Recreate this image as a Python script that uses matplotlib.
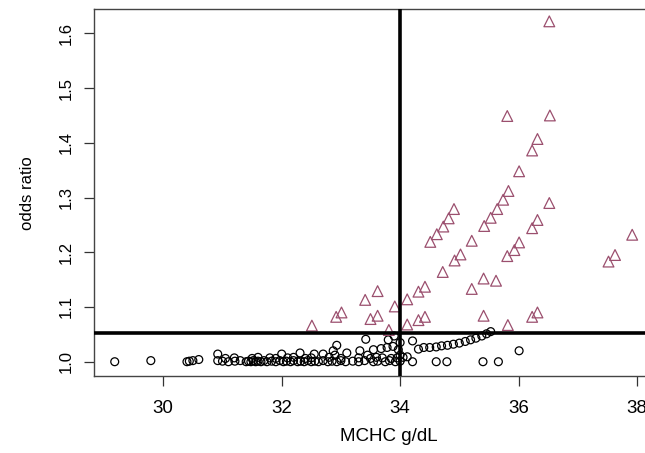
import matplotlib
matplotlib.use("Agg")
import matplotlib.pyplot as plt

# ---- data ----
circle_x = [29.18, 29.79, 30.40, 30.44, 30.50, 30.60, 30.92, 31.00, 31.10, 31.21,
            31.30, 31.40, 31.44, 31.48, 31.52, 31.56, 31.60, 31.65, 31.70, 31.75,
            31.83, 31.90, 31.97, 32.03, 32.08, 32.15, 32.20, 32.27, 32.32, 32.38,
            32.44, 32.50, 32.56, 32.62, 32.70, 32.78, 32.85, 32.93, 33.00, 33.08,
            33.20, 33.30, 33.40, 33.55, 33.62, 33.75, 33.82, 33.92, 34.00, 34.21,
            34.61, 34.79, 35.40, 35.66,
            31.05, 31.20, 31.50, 31.60, 31.80, 31.90, 32.10, 32.20, 32.40, 32.50,
            32.80, 33.00, 33.30, 33.50, 33.60, 33.70, 33.85, 33.95, 34.05,
            30.92, 32.00, 32.31, 32.55, 32.70, 32.90, 33.10, 33.45, 34.00, 34.12,
            32.87, 33.32, 33.55, 33.68, 33.78, 33.88, 33.97, 36.01,
            32.93, 33.42, 33.80, 33.90, 34.00, 34.21,
            34.31, 34.40, 34.50, 34.61, 34.70, 34.80, 34.90, 35.00, 35.10, 35.19,
            35.28, 35.38, 35.46, 35.53]
circle_y = [1.000, 1.002, 1.000, 1.001, 1.002, 1.004, 1.002, 1.001, 1.000, 1.001,
            1.002, 1.000, 1.001, 1.000, 1.002, 1.000, 1.001, 1.000, 1.002, 1.000,
            1.001, 1.000, 1.002, 1.000, 1.001, 1.000, 1.002, 1.000, 1.001, 1.000,
            1.002, 1.000, 1.001, 1.000, 1.002, 1.000, 1.001, 1.000, 1.002, 1.000,
            1.001, 1.000, 1.002, 1.000, 1.001, 1.000, 1.002, 1.000, 1.001, 1.000,
            1.000, 1.000, 1.000, 1.000,
            1.006, 1.007, 1.006, 1.008, 1.007, 1.006, 1.007, 1.008, 1.006, 1.007,
            1.008, 1.006, 1.007, 1.006, 1.008, 1.007, 1.006, 1.007, 1.008,
            1.014, 1.014, 1.016, 1.014, 1.014, 1.012, 1.016, 1.012, 1.012, 1.009,
            1.020, 1.020, 1.022, 1.024, 1.026, 1.028, 1.022, 1.020,
            1.030, 1.041, 1.040, 1.047, 1.035, 1.038,
            1.023, 1.026, 1.026, 1.027, 1.029, 1.030, 1.032, 1.034, 1.037, 1.040,
            1.043, 1.047, 1.051, 1.055]

tri_x = [32.51, 32.92, 33.01, 33.41, 33.62, 33.50, 33.62, 33.81, 33.91,
         34.12, 34.31, 34.42, 34.12, 34.31, 34.42,
         34.51, 34.62, 34.73, 34.82, 34.91, 34.72, 34.92, 35.02, 35.21,
         35.21, 35.41, 35.62, 35.41,
         35.42, 35.53, 35.64, 35.74, 35.83, 35.81, 35.93, 36.01,
         36.01, 36.23, 36.32, 35.81, 36.53, 36.52,
         36.52, 36.23, 36.32, 36.23, 36.32, 35.82,
         37.52, 37.63, 37.92]
tri_y = [1.066, 1.082, 1.090, 1.113, 1.129, 1.078, 1.084, 1.058, 1.101,
         1.114, 1.128, 1.137, 1.068, 1.076, 1.082,
         1.219, 1.233, 1.247, 1.262, 1.279, 1.164, 1.185, 1.196, 1.221,
         1.133, 1.152, 1.148, 1.084,
         1.248, 1.263, 1.279, 1.296, 1.312, 1.193, 1.204, 1.218,
         1.348, 1.386, 1.407, 1.449, 1.450, 1.622,
         1.290, 1.244, 1.259, 1.082, 1.090, 1.067,
         1.183, 1.195, 1.232]

x_ticks = [30, 32, 34, 36, 38]
y_ticks = [1.0, 1.1, 1.2, 1.3, 1.4, 1.5, 1.6]
y_ticklabels = ["1.0", "1.1", "1.2", "1.3", "1.4", "1.5", "1.6"]
v_cut = 34.0
h_cut = 1.053

plt.rcParams['font.family'] = ['Liberation Sans', 'DejaVu Sans']

fig = plt.figure(figsize=(6.45, 4.53), dpi=100)
ax = fig.add_axes([94 / 645, 77 / 453, 590.3 / 645, 366.7 / 453])

ax.scatter(circle_x, circle_y, s=32, facecolors='none', edgecolors='black',
           linewidths=0.9, marker='o', zorder=3)
ax.scatter(tri_x, tri_y, s=60, facecolors='none', edgecolors='#9b4f6e',
           linewidths=0.9, marker='^', zorder=3)

ax.axvline(v_cut, color='black', lw=2.6, zorder=4)
ax.axhline(h_cut, color='black', lw=2.6, zorder=4)

ax.set_xlim(28.83, 38.8)
ax.set_ylim(0.9739, 1.644)
ax.set_xticks(x_ticks)
ax.set_yticks(y_ticks)
ax.set_yticklabels(y_ticklabels, rotation=90, va='center')
ax.tick_params(axis='both', direction='out', length=7.5, width=0.9,
               color='#333333')
ax.tick_params(axis='x', pad=10, labelsize=13.5)
ax.tick_params(axis='y', pad=7, labelsize=12)
for s in ax.spines.values():
    s.set_linewidth(1.0)
    s.set_color('#444444')
ax.spines['right'].set_visible(False)

ax.set_xlabel('MCHC g/dL', fontsize=13.5, labelpad=8)
ax.set_ylabel('odds ratio', fontsize=12, labelpad=17)

fig.savefig('out.png', dpi=100)
